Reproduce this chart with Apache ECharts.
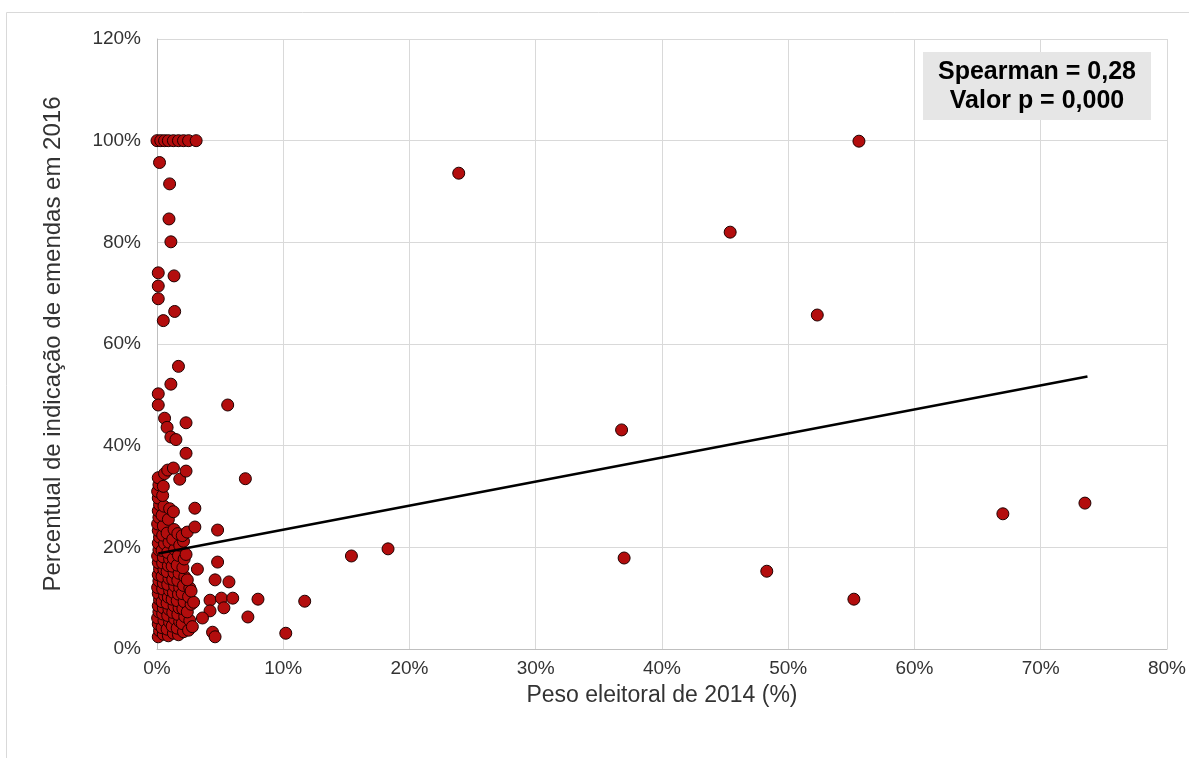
<!DOCTYPE html>
<html>
<head>
<meta charset="utf-8">
<script src="https://cdn.jsdelivr.net/npm/echarts@6/dist/echarts.min.js"></script>
<style>
  html, body { margin:0; padding:0; background:#fff; }
  #chart { width:1189px; height:758px; }
</style>
</head>
<body>
<div id="chart"></div>
<script>
// x = peso eleitoral 2014 (%), y = percentual de indicação de emendas 2016 (%)
const topRow = [[0.0,100],[0.3,100],[0.6,100],[0.9,100],[1.3,100],[1.7,100],[2.1,100],[2.5,100],[3.1,100]];

const upperNearZero = [
  [0.2,95.7],[1.0,91.5],[0.95,84.6],[1.1,80.1],[0.1,74.0],[1.35,73.4],[0.1,71.4],[0.1,68.9],
  [1.4,66.4],[0.5,64.6],[1.7,55.6],[1.1,52.1],[0.1,50.2],[0.1,48.0],[0.6,45.4],[0.8,43.6],
  [2.3,44.5],[1.1,41.7],[1.5,41.2],[2.3,38.5]
];

const cluster = [
  [0.1,2.4],[0.2,3.6],[0.1,4.9],[0.05,6.1],[0.15,7.3],[0.1,8.5],[0.2,9.7],[0.1,10.9],[0.05,12.1],
  [0.15,13.4],[0.1,14.6],[0.2,15.8],[0.1,17.0],[0.05,18.3],[0.15,19.5],[0.1,20.8],[0.2,22.0],
  [0.1,23.3],[0.05,24.6],[0.15,25.9],[0.1,27.2],[0.2,28.4],[0.1,29.7],[0.05,31.0],[0.15,32.3],[0.1,33.7],
  [0.5,2.9],[0.4,4.2],[0.55,5.6],[0.45,6.9],[0.5,8.1],[0.4,9.3],[0.6,10.5],[0.45,11.8],[0.5,13.0],
  [0.4,14.3],[0.55,15.6],[0.45,16.9],[0.5,18.1],[0.4,19.4],[0.6,20.7],[0.45,22.4],[0.5,24.2],
  [0.4,26.3],[0.55,28.1],[0.45,30.2],[0.5,32.0],[0.6,34.5],
  [0.9,2.6],[0.8,3.9],[1.0,5.3],[0.85,6.6],[0.95,7.8],[0.8,9.0],[0.9,10.2],[1.0,11.5],[0.85,12.7],
  [0.95,13.9],[0.8,15.2],[0.9,16.4],[1.0,17.7],[0.85,19.0],[0.95,21.0],[0.8,22.8],[0.9,25.5],
  [1.0,27.6],[0.85,35.2],
  [1.3,3.1],[1.2,4.5],[1.4,5.9],[1.25,7.2],[1.35,8.5],[1.2,9.8],[1.3,11.1],[1.4,12.4],[1.25,13.7],
  [1.35,15.0],[1.2,16.3],[1.3,17.8],[1.4,19.6],[1.25,21.6],[1.35,23.5],[1.3,27.0],[1.3,35.6],
  [1.7,2.8],[1.6,4.1],[1.8,5.4],[1.65,6.8],[1.75,8.1],[1.6,9.5],[1.7,10.8],[1.8,12.1],[1.65,13.5],
  [1.75,14.9],[1.6,16.5],[1.7,18.4],[1.8,20.4],[1.65,22.7],[1.8,33.4],
  [2.1,3.4],[2.0,5.0],[2.2,6.4],[2.05,7.9],[2.15,9.3],[2.0,10.9],[2.1,12.5],[2.2,14.2],[2.05,16.0],
  [2.15,17.7],[2.1,21.2],[2.0,22.3],[2.3,35.0],
  [2.5,3.7],[2.6,5.6],[2.4,7.3],[2.7,8.8],[2.5,10.3],[2.6,12.0],[2.4,13.6],[2.3,18.6],[2.4,23.0],
  [2.8,4.4],[2.9,9.2],[2.7,11.4]
];

const spread = [
  [3.0,27.7],[3.0,24.0],[3.2,15.7],[4.8,23.4],[4.8,17.1],[4.6,13.6],[5.7,13.2],[4.2,9.6],[5.1,10.0],
  [6.0,10.0],[8.0,9.8],[5.3,8.1],[4.2,7.5],[3.6,6.1],[7.2,6.3],[4.4,3.3],[4.6,2.4],[7.0,33.5],
  [5.6,48.0],[11.7,9.4],[10.2,3.1],[15.4,18.3],[18.3,19.7],[23.9,93.6],[36.8,43.1],[37.0,17.9],
  [45.4,82.0],[48.3,15.3],[52.3,65.7],[55.6,99.9],[55.2,9.8],[67.0,26.6],[73.5,28.7]
];

// linear trend line endpoints
const trendX = [0.1, 73.7];
const trendY = [18.8, 53.6];

const xTicks = { min:0, max:80, interval:10 };
const yTicks = { min:0, max:120, interval:20 };

const allPoints = topRow.concat(upperNearZero, cluster, spread);
const trend = trendX.map((x,i)=>[x, trendY[i]]);

const chart = echarts.init(document.getElementById('chart'));
const font = '"Liberation Sans", Arial, sans-serif';
chart.setOption({
  animation:false,
  grid:{ left:157, right:22, top:39, bottom:109 },
  xAxis:{
    type:'value', min:xTicks.min, max:xTicks.max, interval:xTicks.interval,
    name:'Peso eleitoral de 2014 (%)', nameLocation:'middle', nameGap:35,
    nameTextStyle:{ fontFamily:font, fontSize:23, color:'#333' },
    axisLine:{ show:true, lineStyle:{ color:'#bfbfbf' } },
    axisTick:{ show:false },
    axisLabel:{ formatter:'{value}%', fontFamily:font, fontSize:19, color:'#333', margin:10 },
    splitLine:{ show:true, lineStyle:{ color:'#d9d9d9' } }
  },
  yAxis:{
    type:'value', min:yTicks.min, max:yTicks.max, interval:yTicks.interval,
    name:'Percentual de indicação de emendas em 2016', nameLocation:'middle', nameGap:92,
    nameTextStyle:{ fontFamily:font, fontSize:24, color:'#333' },
    axisLine:{ show:true, lineStyle:{ color:'#bfbfbf' } },
    axisTick:{ show:false },
    axisLabel:{ formatter:'{value}%', fontFamily:font, fontSize:19, color:'#333', margin:16 },
    splitLine:{ show:true, lineStyle:{ color:'#d9d9d9' } }
  },
  graphic:[
    { type:'rect', silent:true, z:-10, shape:{ x:6.5, y:12.5, width:1200, height:800 },
      style:{ fill:'none', stroke:'#d9d9d9', lineWidth:1 } },
    { type:'rect', z:100, shape:{ x:923, y:52, width:228, height:68 },
      style:{ fill:'#e6e6e6' } },
    { type:'text', z:101, x:1037, y:72,
      style:{ text:'Spearman = 0,28', font:'bold 25px ' + font, fill:'#000', align:'center', verticalAlign:'middle' } },
    { type:'text', z:101, x:1037, y:101,
      style:{ text:'Valor p = 0,000', font:'bold 25px ' + font, fill:'#000', align:'center', verticalAlign:'middle' } }
  ],
  series:[
    {
      type:'scatter',
      data:allPoints,
      symbolSize:12,
      itemStyle:{ color:'#b30d0d', borderColor:'#1f0000', borderWidth:1, opacity:1 },
      z:2
    },
    {
      type:'line',
      data:trend,
      symbol:'none',
      lineStyle:{ color:'#000', width:2.5 },
      z:3
    }
  ]
});
</script>
</body>
</html>
